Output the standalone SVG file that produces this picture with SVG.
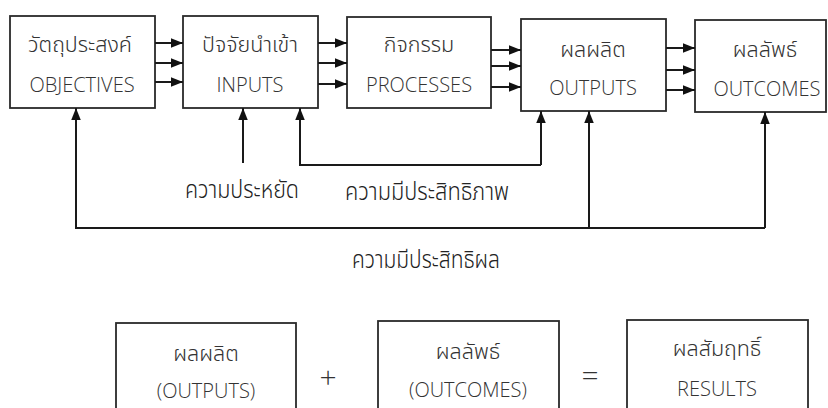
<svg xmlns="http://www.w3.org/2000/svg" width="828" height="408" viewBox="0 0 828 408">
<style>
.box{fill:#fff;stroke:#2a2a2a;stroke-width:1.8}
.t{font-family:"Noto Sans Thai","Open Sans","Noto Sans","DejaVu Sans",sans-serif;font-size:21.5px;font-weight:300;fill:#333;text-anchor:middle}
.e{font-family:"Open Sans","Noto Sans","Liberation Sans",sans-serif;font-size:20px;font-weight:300;fill:#333;text-anchor:middle}
.lbl{font-family:"Noto Sans Thai","Noto Sans","DejaVu Sans",sans-serif;font-size:24px;font-weight:300;fill:#222;text-anchor:middle}
.ln{fill:none;stroke:#1a1a1a;stroke-width:2}
.op{font-family:"Open Sans","Liberation Sans",sans-serif;font-size:30px;font-weight:300;fill:#333;text-anchor:middle}
</style>
<defs>
<marker id="ah" markerUnits="userSpaceOnUse" markerWidth="12" markerHeight="10" refX="12" refY="4.75" orient="auto">
<path d="M0,0 L12,4.75 L0,9.5 z" fill="#111"/>
</marker>
</defs>
<rect width="828" height="408" fill="#fff"/>

<g id="objectives">
<rect class="box" x="10" y="16" width="145" height="92"/>
<text class="t" x="80" y="52">วัตถุประสงค์</text>
<text class="e" x="82" y="92">OBJECTIVES</text>
</g>
<g id="inputs">
<rect class="box" x="183" y="16" width="135" height="92"/>
<text class="t" x="250" y="52">ปัจจัยนำเข้า</text>
<text class="e" x="250" y="92">INPUTS</text>
</g>
<g id="processes">
<rect class="box" x="347" y="17" width="144" height="91"/>
<text class="t" x="419" y="52">กิจกรรม</text>
<text class="e" x="419" y="92">PROCESSES</text>
</g>
<g id="outputs">
<rect class="box" x="521" y="19" width="145" height="92"/>
<text class="t" x="593" y="57">ผลผลิต</text>
<text class="e" x="593" y="95">OUTPUTS</text>
</g>
<g id="outcomes">
<rect class="box" x="695" y="20" width="131" height="92"/>
<text class="t" x="765" y="57">ผลลัพธ์</text>
<text class="e" x="767" y="96">OUTCOMES</text>
</g>

<g id="connectors">
<line class="ln" x1="155" y1="43" x2="183" y2="43" marker-end="url(#ah)"/>
<line class="ln" x1="155" y1="63" x2="183" y2="63" marker-end="url(#ah)"/>
<line class="ln" x1="155" y1="82" x2="183" y2="82" marker-end="url(#ah)"/>
<line class="ln" x1="318" y1="43" x2="347" y2="43" marker-end="url(#ah)"/>
<line class="ln" x1="318" y1="63" x2="347" y2="63" marker-end="url(#ah)"/>
<line class="ln" x1="318" y1="84" x2="347" y2="84" marker-end="url(#ah)"/>
<line class="ln" x1="491" y1="50" x2="521" y2="50" marker-end="url(#ah)"/>
<line class="ln" x1="491" y1="66" x2="521" y2="66" marker-end="url(#ah)"/>
<line class="ln" x1="491" y1="87" x2="521" y2="87" marker-end="url(#ah)"/>
<line class="ln" x1="666" y1="48" x2="695" y2="48" marker-end="url(#ah)"/>
<line class="ln" x1="666" y1="70" x2="695" y2="70" marker-end="url(#ah)"/>
<line class="ln" x1="666" y1="90" x2="695" y2="90" marker-end="url(#ah)"/>
<line class="ln" x1="243" y1="163" x2="243" y2="108" marker-end="url(#ah)"/>
<polyline class="ln" points="541,165 300,165 300,108" marker-end="url(#ah)"/>
<line class="ln" x1="541" y1="165" x2="541" y2="111" marker-end="url(#ah)"/>
<polyline class="ln" points="765,228 76,228 76,108" marker-end="url(#ah)"/>
<line class="ln" x1="589" y1="228" x2="589" y2="111" marker-end="url(#ah)"/>
<line class="ln" x1="765" y1="228" x2="765" y2="112" marker-end="url(#ah)"/>
</g>

<text class="lbl" x="242" y="198" textLength="114" lengthAdjust="spacingAndGlyphs">ความประหยัด</text>
<text class="lbl" x="427" y="200" textLength="164" lengthAdjust="spacingAndGlyphs">ความมีประสิทธิภาพ</text>
<text class="lbl" x="426" y="268" textLength="148" lengthAdjust="spacingAndGlyphs">ความมีประสิทธิผล</text>

<g id="res-outputs">
<rect class="box" x="116" y="323" width="180" height="100"/>
<text class="t" x="206" y="361">ผลผลิต</text>
<text class="e" x="206" y="398">(OUTPUTS)</text>
</g>
<text class="op" x="328" y="388">+</text>
<g id="res-outcomes">
<rect class="box" x="378" y="321" width="181" height="100"/>
<text class="t" x="468" y="359">ผลลัพธ์</text>
<text class="e" x="468" y="397">(OUTCOMES)</text>
</g>
<text class="op" x="590" y="386">=</text>
<g id="results">
<rect class="box" x="627" y="320" width="181" height="100"/>
<text class="t" x="717" y="356">ผลสัมฤทธิ์</text>
<text class="e" x="717" y="396">RESULTS</text>
</g>
</svg>
